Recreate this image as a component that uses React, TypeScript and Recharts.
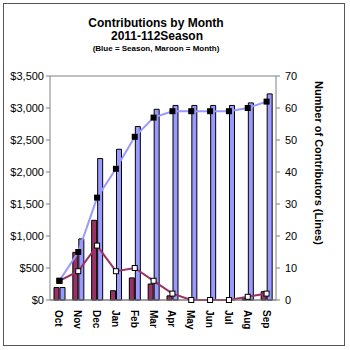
import { ComposedChart, Bar, Line, XAxis, YAxis, CartesianGrid } from 'recharts'

const months = ['Oct', 'Nov', 'Dec', 'Jan', 'Feb', 'Mar', 'Apr', 'May', 'Jun', 'Jul', 'Aug', 'Sep']
const monthDollars = [195, 745, 1245, 145, 345, 250, 65, 0, 0, 0, 20, 130]
const seasonDollars = [195, 955, 2210, 2355, 2710, 2980, 3040, 3040, 3040, 3040, 3080, 3220]
const monthContributors = [6, 9, 17, 9, 10, 6, 2, 0, 0, 0, 1, 2]
const seasonContributors = [6, 15, 32, 41, 51, 57, 59, 59, 59, 59, 60, 62]
const dollarTicks = [0, 500, 1000, 1500, 2000, 2500, 3000, 3500]
const countTicks = [0, 10, 20, 30, 40, 50, 60, 70]

const data = months.map((m, i) => ({
  month: m,
  monthDollars: monthDollars[i],
  seasonDollars: seasonDollars[i],
  monthContributors: monthContributors[i],
  seasonContributors: seasonContributors[i],
}))

const FONT = 'Arial, "Liberation Sans", sans-serif'

function formatDollar(v: number) {
  return '$' + v.toLocaleString('en-US')
}

function MonthTick({ x, y, payload }: { x?: number; y?: number; payload?: { value: string } }) {
  return (
    <text
      x={0}
      y={0}
      transform={`translate(${(x ?? 0) - 4}, ${(y ?? 0) + 2}) rotate(90)`}
      textAnchor="start"
      fontSize={10}
      fontWeight="bold"
      fontFamily={FONT}
      fill="#000"
    >
      {payload?.value}
    </text>
  )
}

function BlackSquare({ cx, cy }: { cx?: number; cy?: number }) {
  if (cx == null || cy == null) return null
  return <rect x={cx - 3} y={cy - 3} width={6} height={6} fill="#000" />
}

function WhiteSquare({ cx, cy }: { cx?: number; cy?: number }) {
  if (cx == null || cy == null) return null
  return <rect x={cx - 2.5} y={cy - 2.5} width={5} height={5} fill="#fff" stroke="#000" strokeWidth={1} />
}

export default function App() {
  return (
    <div style={{ position: 'absolute', left: 0, top: 0, width: 350, height: 350, background: '#fff', fontFamily: FONT }}>
      <div
        style={{
          position: 'absolute',
          left: 3,
          top: 3,
          width: 340,
          height: 341,
          border: '1px solid #555',
        }}
      />
      <svg width={350} height={350} style={{ position: 'absolute', left: 0, top: 0 }}>
        <text x={156} y={27} textAnchor="middle" fontSize={12} fontWeight="bold" fontFamily={FONT}>
          Contributions by Month
        </text>
        <text x={157} y={40} textAnchor="middle" fontSize={12} fontWeight="bold" fontFamily={FONT}>
          2011-112Season
        </text>
        <text x={156} y={51} textAnchor="middle" fontSize={8} fontWeight="bold" fontFamily={FONT}>
          (Blue = Season, Maroon = Month)
        </text>
        <text
          x={0}
          y={0}
          transform="translate(315, 163) rotate(90)"
          textAnchor="middle"
          fontSize={11}
          fontWeight="bold"
          fontFamily={FONT}
        >
          Number of Contributors (Lines)
        </text>
      </svg>
      <div style={{ position: 'absolute', left: 3, top: 3 }}>
        <ComposedChart
          width={342}
          height={343}
          data={data}
          margin={{ top: 73, right: 39, bottom: 6, left: 0 }}
          barGap={1}
        >
          <CartesianGrid vertical={false} stroke="#808080" strokeWidth={1} />
          <XAxis
            dataKey="month"
            tick={<MonthTick />}
            height={40}
            interval={0}
            axisLine={{ stroke: '#808080' }}
            tickLine={false}
          />
          <YAxis
            yAxisId="left"
            domain={[0, 3500]}
            ticks={dollarTicks}
            tickFormatter={formatDollar}
            width={47}
            tickSize={4}
            tick={{ fontSize: 11, fill: '#000', fontFamily: FONT }}
            axisLine={{ stroke: '#808080' }}
            tickLine={{ stroke: '#808080' }}
          />
          <YAxis
            yAxisId="right"
            orientation="right"
            domain={[0, 70]}
            ticks={countTicks}
            width={30}
            tickSize={4}
            tickMargin={5}
            tick={{ fontSize: 11, fill: '#000', fontFamily: FONT }}
            axisLine={{ stroke: '#808080' }}
            tickLine={{ stroke: '#808080' }}
          />
          <Bar
            yAxisId="left"
            dataKey="monthDollars"
            fill="#993366"
            stroke="#000"
            strokeWidth={1}
            barSize={5}
            isAnimationActive={false}
          />
          <Bar
            yAxisId="left"
            dataKey="seasonDollars"
            fill="#9999ff"
            stroke="#000"
            strokeWidth={1}
            barSize={5}
            isAnimationActive={false}
          />
          <Line
            yAxisId="right"
            dataKey="monthContributors"
            stroke="#993366"
            strokeWidth={2}
            dot={<WhiteSquare />}
            activeDot={false}
            isAnimationActive={false}
          />
          <Line
            yAxisId="right"
            dataKey="seasonContributors"
            stroke="#9999ff"
            strokeWidth={2}
            dot={<BlackSquare />}
            activeDot={false}
            isAnimationActive={false}
          />
        </ComposedChart>
      </div>
    </div>
  )
}
